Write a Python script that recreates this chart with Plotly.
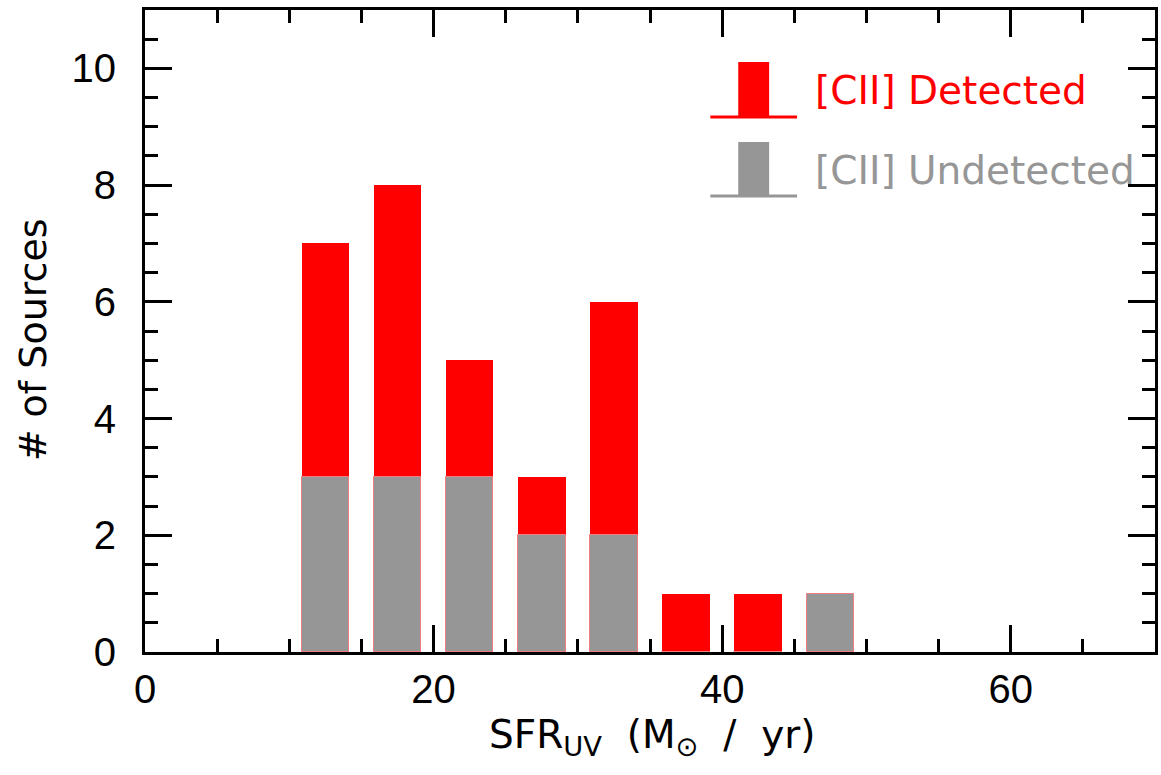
import plotly.graph_objects as go

# Data
bin_centers = [12.5, 17.5, 22.5, 27.5, 32.5, 37.5, 42.5, 47.5]
total_counts = [7, 8, 5, 3, 6, 1, 1, 1]
undetected_counts = [3, 3, 3, 2, 2, 0, 0, 1]
legend_labels = ["[CII] Detected", "[CII] Undetected"]
x_ticks = [0, 20, 40, 60]
y_ticks = [0, 2, 4, 6, 8, 10]
x_title = "SFR<sub>UV</sub>  (M<sub>⊙</sub>  /  yr)"
y_title = "# of Sources"

RED = "#ff0000"
GRAY = "#969696"
TICKFONT = "Liberation Sans"
TEXTFONT = "DejaVu Sans"

fig = go.Figure()
fig.add_trace(go.Bar(x=bin_centers, y=total_counts, width=3.3,
                     marker=dict(color=RED, line=dict(width=0)),
                     showlegend=False, hoverinfo="skip"))
fig.add_trace(go.Bar(x=bin_centers, y=undetected_counts, width=3.3,
                     marker=dict(color=GRAY, line=dict(color="#f08080", width=1)),
                     showlegend=False, hoverinfo="skip"))

axis_common = dict(
    showline=True, linecolor="black", linewidth=3, mirror="allticks",
    ticks="inside", ticklen=27, tickwidth=2.5, tickcolor="black",
    showgrid=False, zeroline=False,
    tickfont=dict(family=TICKFONT, size=40, color="black"),
)

W, H = 1161, 775
L, R, T, B = 145, 3, 10, 123
pw, ph = W - L - R, H - T - B

fig.update_layout(
    width=W, height=H,
    margin=dict(l=L, r=R, t=T, b=B),
    paper_bgcolor="white", plot_bgcolor="white",
    barmode="overlay", bargap=0,
    xaxis=dict(range=[0, 70], tickvals=x_ticks, ticklabelstandoff=0,
               minor=dict(dtick=5, tick0=0, ticklen=13, tickwidth=2.5,
                          ticks="inside", tickcolor="black", showgrid=False),
               **axis_common),
    yaxis=dict(range=[0, 11], tickvals=y_ticks, ticklabelstandoff=18,
               minor=dict(dtick=0.5, tick0=0, ticklen=13, tickwidth=2.5,
                          ticks="inside", tickcolor="black", showgrid=False),
               **axis_common),
)


def px(x):
    return (x - L) / pw


def py(y):
    return (H - B - y) / ph


# Axis titles
fig.add_annotation(xref="paper", yref="paper", x=px(654), y=py(737),
                   xanchor="center", yanchor="middle", showarrow=False,
                   text=x_title, font=dict(family=TEXTFONT, size=39, color="black"))
fig.add_annotation(xref="paper", yref="paper", x=px(33), y=py(340),
                   xanchor="center", yanchor="middle", showarrow=False, textangle=-90,
                   text=y_title, font=dict(family=TEXTFONT, size=38, color="black"))

# Custom legend (histogram-step style symbols)
legend_rows = [(RED, 62, 117, legend_labels[0]), (GRAY, 142, 196, legend_labels[1])]
for color, top, base, label in legend_rows:
    fig.add_shape(type="rect", xref="paper", yref="paper",
                  x0=px(740), x1=px(771), y0=py(base), y1=py(top),
                  fillcolor=color, line=dict(width=0), layer="above")
    fig.add_shape(type="line", xref="paper", yref="paper",
                  x0=px(712), x1=px(799), y0=py(base), y1=py(base),
                  line=dict(color=color, width=3), layer="above")
    fig.add_annotation(xref="paper", yref="paper", x=px(815), y=py((top + base) / 2 + 1),
                       xanchor="left", yanchor="middle", showarrow=False,
                       text=label, font=dict(family=TEXTFONT, size=39, color=color))

fig.write_html("out.html", config={"displayModeBar": False},
               post_script="document.body.style.margin='0';document.body.style.overflow='hidden';")
